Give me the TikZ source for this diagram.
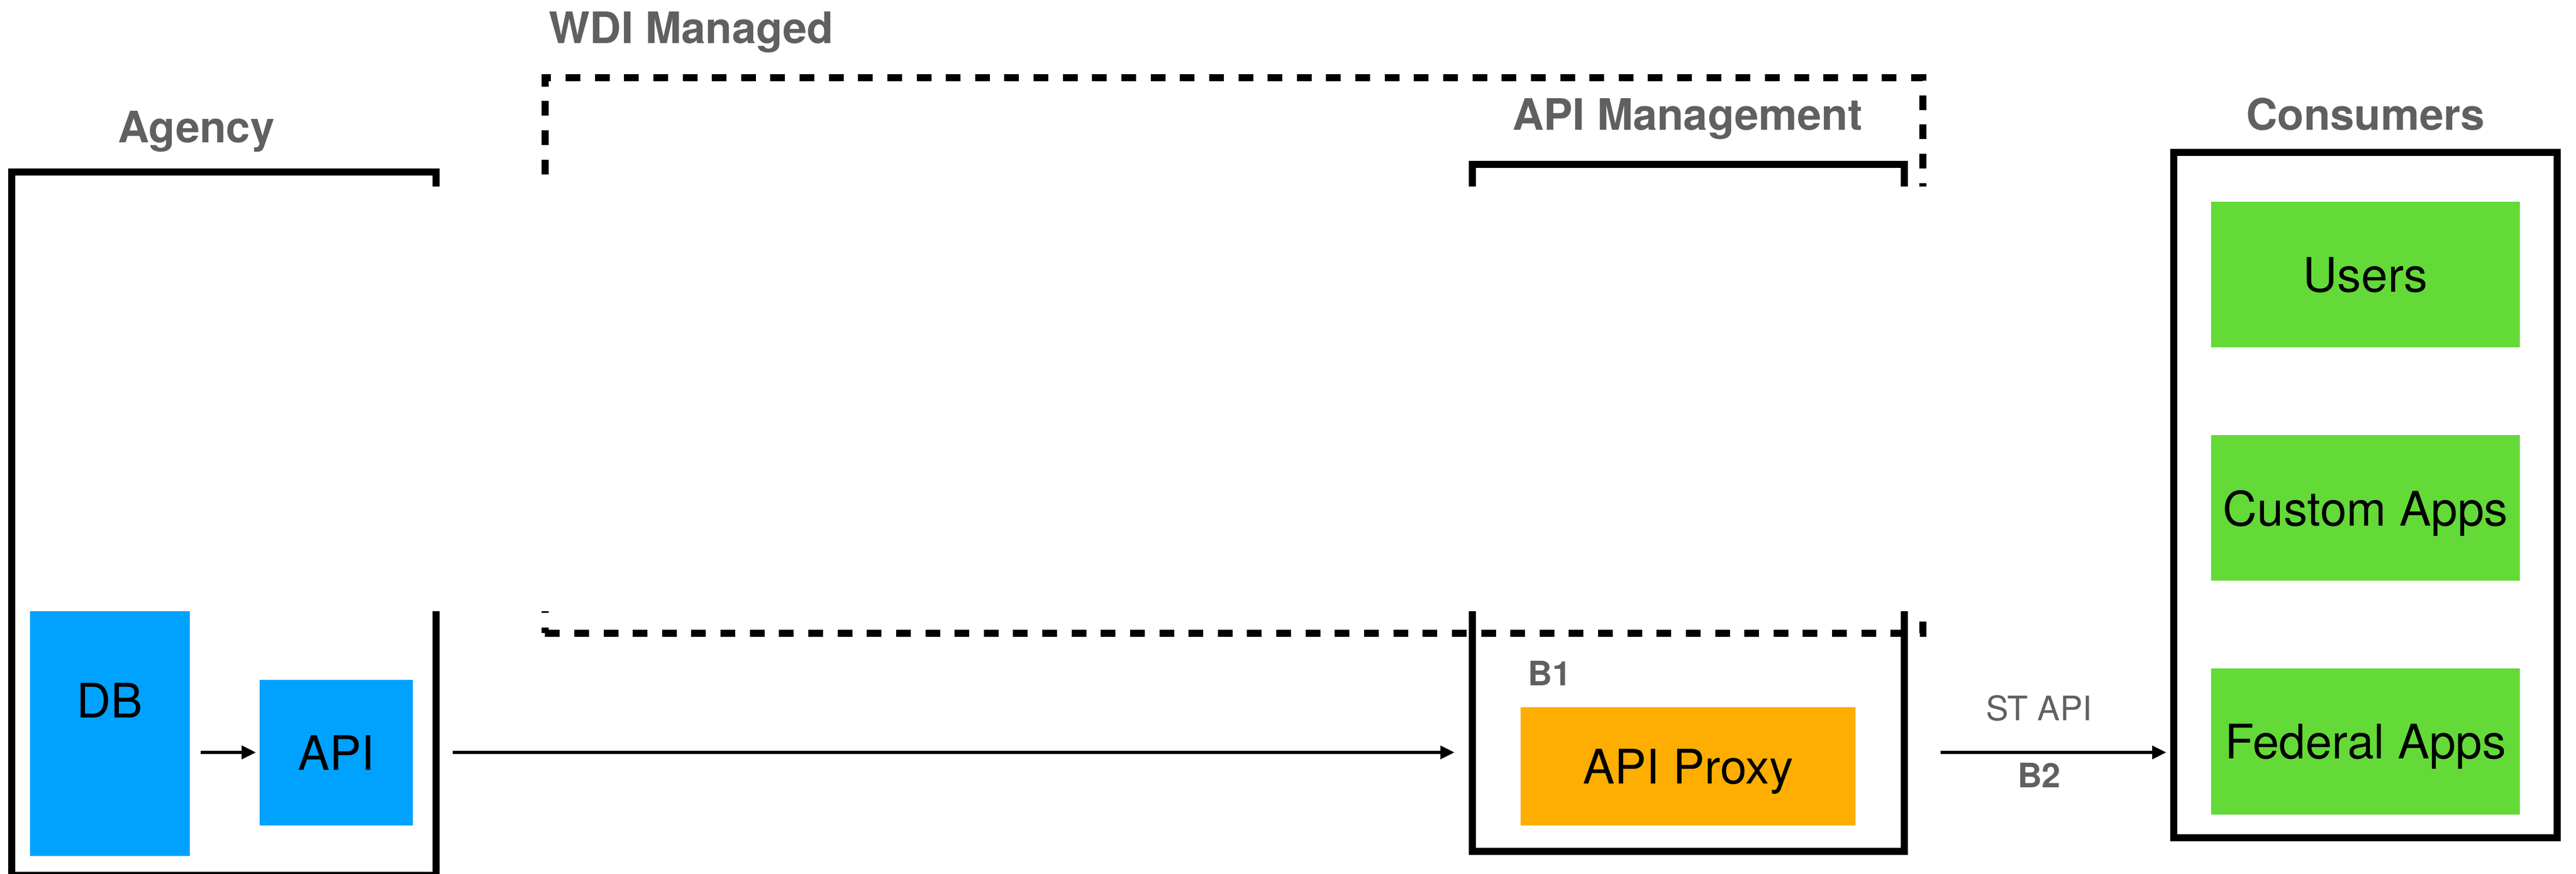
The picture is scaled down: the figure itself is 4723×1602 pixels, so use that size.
\documentclass[tikz,border=0pt]{standalone}
\usepackage{fontspec}
\setmainfont{TeX Gyre Heros}
\usetikzlibrary{arrows.meta}
\definecolor{labelgray}{RGB}{96,96,96}
\definecolor{svcblue}{RGB}{0,162,255}
\definecolor{proxyorange}{RGB}{253,174,0}
\definecolor{appgreen}{RGB}{99,218,56}
\tikzset{
  grouplabel/.style={text=labelgray, inner sep=0, font=\bfseries\fontsize{22.6pt}{27pt}\selectfont},
  taglabel/.style={text=labelgray, inner sep=0, font=\fontsize{17.6pt}{21pt}\selectfont},
  tagbold/.style={taglabel, font=\bfseries\fontsize{17.6pt}{21pt}\selectfont},
  groupframe/.style={draw, line width=0.13cm, inner sep=0},
  wdiframe/.style={groupframe, dash pattern=on 0.27cm off 0.266cm},
  svc/.style={fill=svcblue, inner sep=0, text depth=0pt, font=\fontsize{24.8pt}{30pt}\selectfont},
  appbox/.style={svc, fill=appgreen, minimum width=5.66cm, minimum height=2.67cm},
  flow/.style={line width=0.055cm, -{Triangle[length=0.26cm,width=0.24cm]}}
}
\begin{document}
\begin{tikzpicture}[x=0.01cm, y=-0.01cm]
\useasboundingbox (0,0) rectangle (4723,1602);
% group titles
\node[grouplabel, anchor=base] at (360,261) {Agency};
\node[grouplabel, anchor=base west] at (1006,79) {WDI Managed};
\node[grouplabel, anchor=base] at (3094,238) {API Management};
\node[grouplabel, anchor=base] at (4337,238) {Consumers};
% frames, open in the middle band
\begin{scope}
\clip (0,0) rectangle (4723,342) (0,1121) rectangle (4723,1620) (0,0) rectangle (400,1620);
\node[groupframe, minimum width=7.77cm, minimum height=12.89cm] (agency) at (410.5,960.5) {};
\node[wdiframe, minimum width=25.25cm, minimum height=10.18cm] (wdi) at (2262.5,652) {};
\node[groupframe, minimum width=7.91cm, minimum height=12.59cm] (apimgmt) at (3095.5,931.5) {};
\end{scope}
\node[groupframe, minimum width=7.02cm, minimum height=12.56cm] (consumers) at (4337,908) {};
% agency side
\node[svc, minimum width=2.93cm, minimum height=4.49cm, text depth=1.22cm] (db) at (201.5,1345.5) {DB};
\node[svc, minimum width=2.81cm, minimum height=2.67cm] (api) at (616.5,1380.5) {API};
% api management
\node[tagbold, anchor=base west] at (2801,1257) {B1};
\node[svc, fill=proxyorange, minimum width=6.14cm, minimum height=2.17cm] (proxy) at (3095,1405.5) {API Proxy};
% consumers
\node[appbox] (users) at (4337,503.5) {Users};
\node[appbox] (custom) at (4337,931.5) {Custom Apps};
\node[appbox] (federal) at (4337,1360) {Federal Apps};
% connectors
\coordinate (lane) at (0,1380);
\draw[flow, shorten <=0.19cm, shorten >=0.06cm] (db.east |- lane) -- (api.west |- lane);
\draw[flow, shorten <=0.72cm, shorten >=0.265cm] (api.east |- lane) -- (apimgmt.west |- lane);
\draw[flow, shorten <=0.6cm, shorten >=0.075cm] (apimgmt.east |- lane) -- (consumers.west |- lane)
  node[taglabel, midway, anchor=base, yshift=0.58cm] {ST API}
  node[tagbold, midway, anchor=base, yshift=-0.64cm] {B2};
\end{tikzpicture}
\end{document}
